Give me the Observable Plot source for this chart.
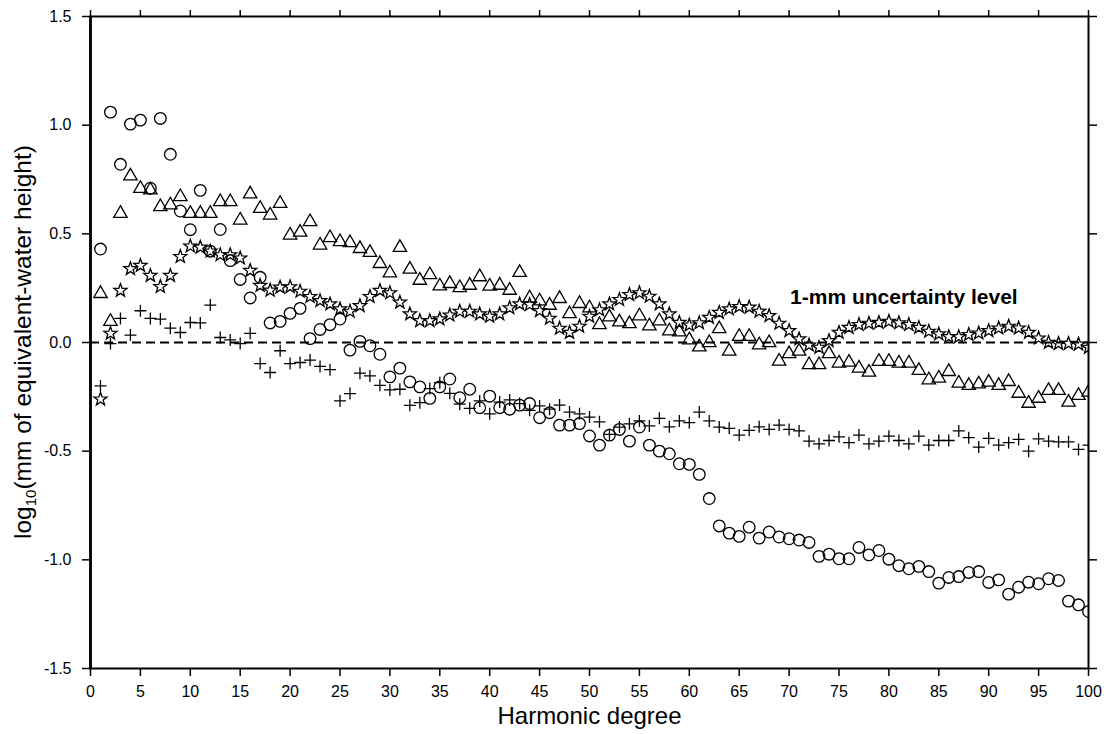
<!DOCTYPE html>
<html>
<head>
<meta charset="utf-8">
<script src="https://cdn.jsdelivr.net/npm/d3@7"></script>
<script src="https://cdn.jsdelivr.net/npm/@observablehq/plot@0.6"></script>
<style>
  html, body { margin: 0; padding: 0; background: #fff; }
  #chart svg { display: block; }
</style>
</head>
<body>
<div id="chart"></div>
<script>
// Harmonic degrees
const degrees = [1,2,3,4,5,6,7,8,9,10,11,12,13,14,15,16,17,18,19,20,
  21,22,23,24,25,26,27,28,29,30,31,32,33,34,35,36,37,38,39,40,
  41,42,43,44,45,46,47,48,49,50,51,52,53,54,55,56,57,58,59,60,
  61,62,63,64,65,66,67,68,69,70,71,72,73,74,75,76,77,78,79,80,
  81,82,83,84,85,86,87,88,89,90,91,92,93,94,95,96,97,98,99,100];

// Series 1: open circles
const circleValues = [0.43,1.06,0.82,1.005,1.023,0.71,1.031,0.866,0.605,0.519,
  0.70,0.42,0.52,0.377,0.29,0.205,0.30,0.09,0.097,0.134,
  0.157,0.018,0.06,0.082,0.108,-0.035,0.005,-0.015,-0.054,-0.158,
  -0.118,-0.181,-0.204,-0.257,-0.204,-0.168,-0.254,-0.215,-0.30,-0.247,
  -0.30,-0.307,-0.288,-0.281,-0.346,-0.323,-0.38,-0.38,-0.373,-0.43,
  -0.472,-0.426,-0.40,-0.454,-0.389,-0.472,-0.50,-0.512,-0.558,-0.561,
  -0.607,-0.718,-0.844,-0.877,-0.892,-0.85,-0.90,-0.872,-0.895,-0.903,
  -0.909,-0.92,-0.984,-0.974,-0.995,-0.995,-0.943,-0.977,-0.957,-0.997,
  -1.027,-1.041,-1.03,-1.054,-1.107,-1.081,-1.077,-1.058,-1.054,-1.104,
  -1.092,-1.158,-1.126,-1.103,-1.11,-1.087,-1.095,-1.19,-1.207,-1.238];

// Series 2: open triangles
const triangleValues = [0.231,0.103,0.60,0.772,0.715,0.708,0.631,0.639,0.677,0.60,
  0.60,0.60,0.654,0.654,0.569,0.689,0.623,0.592,0.646,0.50,
  0.513,0.562,0.454,0.488,0.47,0.465,0.438,0.42,0.369,0.326,
  0.443,0.343,0.292,0.318,0.266,0.277,0.258,0.269,0.308,0.265,
  0.269,0.246,0.328,0.211,0.197,0.177,0.208,0.138,0.185,0.165,
  0.088,0.123,0.10,0.092,0.128,0.082,0.105,0.059,0.054,0.018,
  -0.015,0.005,0.069,-0.034,0.034,0.034,-0.005,0.005,-0.08,-0.046,
  -0.034,-0.096,-0.096,-0.046,-0.089,-0.085,-0.112,-0.131,-0.081,-0.081,
  -0.089,-0.089,-0.123,-0.166,-0.158,-0.128,-0.181,-0.192,-0.185,-0.177,
  -0.192,-0.174,-0.228,-0.274,-0.251,-0.215,-0.215,-0.269,-0.238,-0.223];

// Series 3: open stars
const starValues = [-0.261,0.042,0.239,0.339,0.354,0.308,0.257,0.308,0.395,0.443,
  0.438,0.42,0.403,0.403,0.388,0.331,0.262,0.24,0.254,0.256,
  0.235,0.211,0.192,0.177,0.154,0.143,0.169,0.211,0.239,0.228,
  0.185,0.131,0.10,0.10,0.108,0.126,0.143,0.143,0.131,0.12,
  0.131,0.159,0.177,0.174,0.146,0.111,0.065,0.046,0.074,0.12,
  0.15,0.177,0.197,0.22,0.228,0.212,0.177,0.131,0.092,0.08,
  0.09,0.115,0.138,0.154,0.165,0.162,0.143,0.123,0.088,0.054,
  0.016,-0.012,-0.023,0.008,0.046,0.069,0.082,0.088,0.092,0.097,
  0.09,0.082,0.069,0.051,0.039,0.026,0.026,0.036,0.043,0.054,
  0.066,0.074,0.066,0.046,0.02,0.0,-0.005,-0.005,-0.008,-0.023];

// Series 4: plus signs
const plusValues = [-0.2,-0.005,0.111,0.034,0.146,0.111,0.108,0.066,0.046,0.092,
  0.09,0.172,0.023,0.012,-0.005,0.042,-0.097,-0.138,-0.038,-0.097,
  -0.092,-0.081,-0.11,-0.125,-0.269,-0.235,-0.141,-0.154,-0.197,-0.218,
  -0.215,-0.289,-0.277,-0.212,-0.185,-0.234,-0.284,-0.303,-0.269,-0.328,
  -0.274,-0.264,-0.281,-0.312,-0.292,-0.307,-0.288,-0.32,-0.328,-0.343,
  -0.365,-0.423,-0.389,-0.374,-0.361,-0.384,-0.349,-0.388,-0.361,-0.369,
  -0.32,-0.361,-0.389,-0.395,-0.426,-0.404,-0.388,-0.40,-0.38,-0.40,
  -0.407,-0.454,-0.466,-0.451,-0.434,-0.461,-0.426,-0.466,-0.454,-0.431,
  -0.451,-0.466,-0.431,-0.472,-0.451,-0.451,-0.407,-0.438,-0.481,-0.441,
  -0.472,-0.461,-0.446,-0.50,-0.443,-0.454,-0.457,-0.457,-0.492,-0.472];

// Axis ticks and labels
const xTicks = [0,5,10,15,20,25,30,35,40,45,50,55,60,65,70,75,80,85,90,95,100];
const yTicks = [-1.5,-1.0,-0.5,0.0,0.5,1.0,1.5];
const referenceLevel = [0];
const annotations = [{text: "1-mm uncertainty level", deg: 70.1, v: 0.21}];
const xTitle = ["Harmonic degree"];

const toRows = (vals) => degrees.map((d, i) => ({deg: d, v: vals[i]}));

// Custom outline symbols (GMT-like)
const triSym = {draw(ctx) {
  ctx.moveTo(0, -6.4); ctx.lineTo(6.7, 5.2); ctx.lineTo(-6.7, 5.2); ctx.closePath();
}};
const starSym = {draw(ctx) {
  const R = 6.9, r = 2.8;
  for (let k = 0; k < 10; k++) {
    const a = -Math.PI / 2 + k * Math.PI / 5;
    const rr = k % 2 === 0 ? R : r;
    const px = rr * Math.cos(a), py = rr * Math.sin(a);
    if (k === 0) ctx.moveTo(px, py); else ctx.lineTo(px, py);
  }
  ctx.closePath();
}};
const plusSym = {draw(ctx) {
  ctx.moveTo(-6, 0); ctx.lineTo(6, 0); ctx.moveTo(0, -6); ctx.lineTo(0, 6);
}};

const dotStyle = {x: "deg", y: "v", stroke: "black", strokeWidth: 1.3, fill: "none", clip: true};

const chart = Plot.plot({
  width: 1106,
  height: 734,
  marginLeft: 90,
  marginRight: 18,
  marginTop: 16,
  marginBottom: 66,
  style: {fontFamily: "'Liberation Sans', Arial, Helvetica, sans-serif", fontSize: "16px", color: "black", background: "white"},
  x: {domain: [0, 100], axis: null},
  y: {domain: [-1.5, 1.5], axis: null},
  marks: [
    Plot.ruleY(referenceLevel, {stroke: "black", strokeWidth: 1.8, strokeDasharray: "9,5"}),
    Plot.dot(toRows(circleValues), {...dotStyle, symbol: "circle", r: 5.8}),
    Plot.dot(toRows(triangleValues), {...dotStyle, symbol: triSym, r: 5}),
    Plot.dot(toRows(starValues), {...dotStyle, symbol: starSym, r: 5}),
    Plot.dot(toRows(plusValues), {...dotStyle, symbol: plusSym, r: 5}),
    Plot.text(annotations, {x: "deg", y: "v", text: "text", textAnchor: "start", fontWeight: "bold", fontSize: 21, fill: "black"}),
    Plot.axisX({anchor: "bottom", ticks: xTicks, tickSize: 8, tickPadding: 9, strokeWidth: 1.5, tickFormat: d => String(d), fontSize: 16, label: null}),
    Plot.axisX({anchor: "top", ticks: xTicks, tickSize: 7, strokeWidth: 1.5, fill: "none", label: null}),
    Plot.axisY({anchor: "left", ticks: yTicks, tickSize: 8, tickPadding: 11, strokeWidth: 1.5, tickFormat: d => d.toFixed(1), fontSize: 16, label: null}),
    Plot.axisY({anchor: "right", ticks: yTicks, tickSize: 8, strokeWidth: 1.5, fill: "none", label: null}),
    Plot.frame({stroke: "black", strokeWidth: 2}),
    Plot.ruleX([0], {stroke: "black", strokeWidth: 2.7}),
    Plot.text(xTitle, {frameAnchor: "bottom", dy: 55, fontSize: 24, fill: "black"})
  ]
});

document.getElementById("chart").appendChild(chart);

// Y-axis title with subscript
const svg = d3.select(chart);
const yt = svg.append("text")
  .attr("transform", "translate(31,342) rotate(-90)")
  .attr("text-anchor", "middle")
  .attr("font-family", "'Liberation Sans', Arial, Helvetica, sans-serif")
  .attr("font-size", 24.5)
  .attr("fill", "black");
yt.append("tspan").text("log");
yt.append("tspan").attr("font-size", 15).attr("dy", 5).text("10");
yt.append("tspan").attr("dy", -5).text("(mm of equivalent-water height)");
</script>
</body>
</html>
